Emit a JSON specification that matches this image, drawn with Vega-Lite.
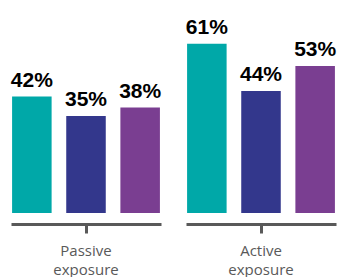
{
  "$schema": "https://vega.github.io/schema/vega-lite/v6.json",
  "padding": {"left": 10, "top": 5, "right": 0, "bottom": 0},
  "bounds": "flush",
  "background": "white",
  "data": {"values": [
    {"group": "Passive exposure", "series": "Series 1", "value": 42},
    {"group": "Passive exposure", "series": "Series 2", "value": 35},
    {"group": "Passive exposure", "series": "Series 3", "value": 38},
    {"group": "Active exposure", "series": "Series 1", "value": 61},
    {"group": "Active exposure", "series": "Series 2", "value": 44},
    {"group": "Active exposure", "series": "Series 3", "value": 53}
  ]},
  "transform": [{"calculate": "datum.value + '%'", "as": "label"}],
  "facet": {
    "column": {
      "field": "group", "type": "nominal",
      "sort": ["Passive exposure", "Active exposure"],
      "header": {
        "title": null,
        "labelOrient": "bottom",
        "labelExpr": "split(datum.label, ' ')",
        "labelFont": "Open Sans",
        "labelFontSize": 15,
        "labelColor": "#595959",
        "labelPadding": 9,
        "labelLineHeight": 19
      }
    }
  },
  "spacing": 25,
  "spec": {
    "width": 150,
    "height": 208,
    "encoding": {
      "x": {
        "field": "series", "type": "nominal",
        "scale": {"paddingInner": 0.27, "paddingOuter": 0.02},
        "axis": {
          "title": null, "labels": false, "values": ["Series 2"],
          "domainColor": "#595959", "domainWidth": 3, "domainCap": "butt",
          "tickColor": "#595959", "tickWidth": 3, "tickSize": 9, "offset": 11
        }
      },
      "y": {
        "field": "value", "type": "quantitative",
        "scale": {"domain": [0, 75]},
        "axis": null
      }
    },
    "layer": [
      {
        "mark": {"type": "bar"},
        "encoding": {
          "color": {
            "field": "series", "type": "nominal", "legend": null,
            "scale": {"range": ["#00A8A8", "#33378C", "#7A3E91"]}
          }
        }
      },
      {
        "mark": {"type": "text", "dy": -10, "baseline": "alphabetic", "font": "Liberation Sans", "fontWeight": "bold", "fontSize": 21, "color": "#000000"},
        "encoding": {
          "text": {"field": "label", "type": "nominal"}
        }
      }
    ]
  },
  "config": {"view": {"stroke": null}}
}
